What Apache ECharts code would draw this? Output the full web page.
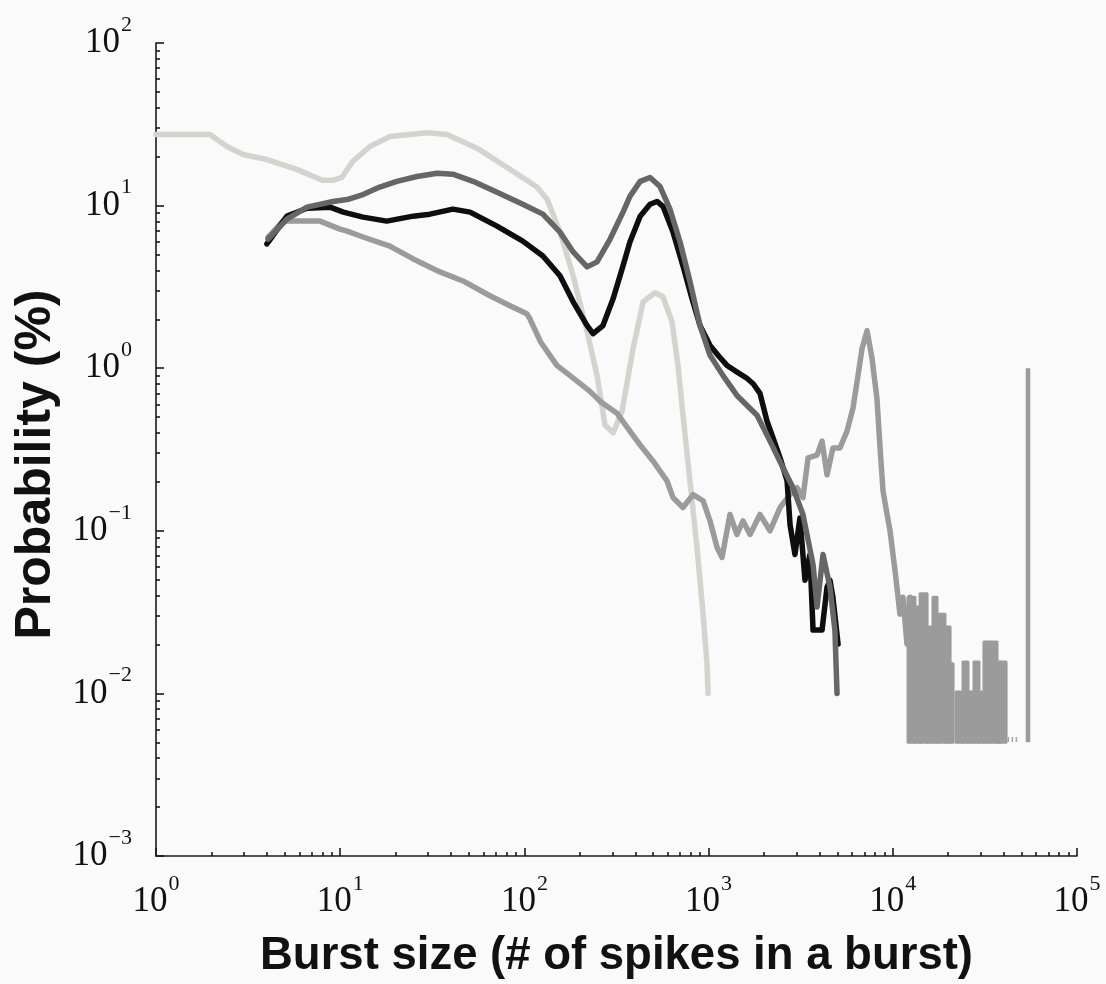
<!DOCTYPE html>
<html>
<head>
<meta charset="utf-8">
<script src="https://cdn.jsdelivr.net/npm/echarts@6/dist/echarts.min.js"></script>
<style>
  html, body { margin: 0; padding: 0; background: #fafafa; }
  #chart { width: 1106px; height: 984px; }
</style>
</head>
<body>
<div id="chart"></div>
<script>
// ---------- data ----------
// light gray curve
const lightX = [1, 1.96, 2.43, 2.97, 4.0, 5.8, 8.0, 9.1, 10.2, 11.7, 14.5, 18.6, 29.6, 38, 57, 87, 117, 133, 156, 184, 219, 248, 274, 303, 339, 389, 441, 512, 565, 633, 682, 726, 792, 865, 933, 980, 993];
const lightY = [27.4, 27.4, 23.1, 20.6, 19.2, 16.7, 14.3, 14.3, 14.9, 18.7, 23.1, 26.6, 28.1, 27.4, 22.1, 16.2, 13.0, 10.9, 6.87, 3.70, 1.68, 0.90, 0.447, 0.40, 0.544, 1.32, 2.56, 2.91, 2.75, 1.93, 1.04, 0.514, 0.203, 0.079, 0.031, 0.0152, 0.01];

// dark gray curve
const darkX = [4.06, 5.14, 6.61, 9.14, 10.9, 13.3, 16.4, 20.3, 26.1, 33.6, 40.9, 52.6, 71, 98, 126, 156, 184, 219, 248, 292, 343, 374, 425, 481, 545, 617, 700, 793, 898, 1018, 1198, 1425, 1832, 2155, 2535, 2872, 3253, 3421, 3690, 3878, 4180, 4560, 4850, 4980];
const darkY = [6.23, 8.26, 9.78, 10.6, 10.9, 11.7, 13.0, 14.1, 15.1, 15.8, 15.6, 14.1, 12.1, 10.2, 8.86, 6.87, 5.19, 4.20, 4.51, 6.23, 9.12, 11.4, 14.1, 14.9, 13.1, 9.5, 5.97, 3.40, 1.83, 1.20, 0.90, 0.68, 0.514, 0.356, 0.244, 0.184, 0.126, 0.095, 0.062, 0.034, 0.0715, 0.045, 0.0245, 0.01];

// black curve
const blackX = [4.0, 5.14, 6.61, 8.81, 10.4, 13.3, 17.9, 24.9, 30.7, 40.9, 50.7, 71, 98, 126, 156, 184, 219, 236, 267, 303, 343, 374, 425, 481, 525, 565, 641, 726, 813, 898, 1018, 1140, 1259, 1400, 1614, 1750, 1901, 2076, 2238, 2443, 2667, 2768, 2944, 3133, 3337, 3548, 3690, 4130, 4395, 4560, 4730, 5045];
const blackY = [5.81, 8.61, 9.64, 9.78, 9.12, 8.49, 8.03, 8.61, 8.86, 9.51, 9.12, 7.48, 6.05, 4.90, 3.70, 2.56, 1.83, 1.63, 1.83, 2.67, 4.26, 5.97, 8.61, 10.2, 10.6, 9.9, 6.87, 4.26, 2.67, 1.83, 1.38, 1.18, 1.04, 0.96, 0.867, 0.80, 0.70, 0.472, 0.372, 0.281, 0.203, 0.109, 0.0715, 0.120, 0.0496, 0.0715, 0.0245, 0.0245, 0.045, 0.0496, 0.039, 0.0201];

// medium gray curve
const midX = [4.06, 4.89, 7.77, 9.97, 10.9, 13.3, 18.6, 24.9, 34.8, 46.4, 65, 83.5, 103, 107, 122, 150, 177, 227, 257, 318, 374, 425, 499, 594, 641, 726, 823, 933, 1018, 1112, 1183, 1306, 1425, 1538, 1679, 1901, 2155, 2443, 2768, 3020, 3253, 3467, 3878, 4130, 4395, 4730, 5165, 5640, 6080, 6400, 6810, 7250, 7710, 8200, 8530, 8850, 9310, 9660, 10280, 10940, 11350, 11940, 12390];
const midY = [6.41, 8.03, 8.03, 7.17, 6.97, 6.41, 5.64, 4.70, 3.91, 3.44, 2.79, 2.42, 2.16, 2.02, 1.46, 1.04, 0.90, 0.72, 0.627, 0.529, 0.41, 0.337, 0.269, 0.203, 0.160, 0.139, 0.167, 0.153, 0.115, 0.079, 0.0686, 0.126, 0.095, 0.115, 0.095, 0.126, 0.10, 0.139, 0.167, 0.184, 0.160, 0.281, 0.292, 0.356, 0.221, 0.323, 0.323, 0.41, 0.568, 0.83, 1.32, 1.70, 1.15, 0.653, 0.323, 0.176, 0.126, 0.10, 0.057, 0.0307, 0.039, 0.0201, 0.039];

// medium gray dense tail: column start, column end, column top (all at floor below)
const tailStart = [12100, 13200, 14060, 15350, 16530, 17380, 19200, 20460, 22040, 24050, 25600, 27590, 29370, 31250, 33700, 36800, 38200];
const tailEnd   = [13200, 14060, 15350, 16530, 17380, 19200, 20460, 21240, 24050, 25600, 27590, 29370, 31250, 33700, 36800, 38200, 41200];
const tailTop   = [0.039, 0.034, 0.041, 0.0256, 0.039, 0.0307, 0.0256, 0.0152, 0.0102, 0.0156, 0.0102, 0.0156, 0.0102, 0.0207, 0.0207, 0.0156, 0.0156];
const tailFloor = 0.005;

// sparse single-count bins just above the floor, after the dense tail
const sparseX = [42000, 47500];
const sparseY = [0.0052, 0.0052];

// isolated bin at the far right
const spikeX = [54200, 54200];
const spikeY = [0.005, 1.0];

// axis ticks
const xDecades = [1, 10, 100, 1000, 10000, 100000];
const yDecades = [0.001, 0.01, 0.1, 1, 10, 100];
const minorSteps = [2, 3, 4, 5, 6, 7, 8, 9];

const xTitle = 'Burst size (# of spikes in a burst)';
const yTitle = 'Probability (%)';

// ---------- build ----------
function minorTicks(decades) {
  const out = [];
  for (let i = 0; i < decades.length - 1; i++) {
    for (const m of minorSteps) out.push(+(decades[i] * m).toPrecision(6));
  }
  return out;
}
const pairs = (xs, ys) => xs.map((x, i) => [x, ys[i]]);

const serif = 'Liberation Serif, Times New Roman, serif';
const sans = 'Liberation Sans, Arial, sans-serif';

function expLabel(v) {
  const e = Math.round(Math.log10(v));
  const s = e < 0 ? '\u2212' + (-e) : String(e);
  return '{b|10}{s|' + s + '}';
}
const labelRich = {
  b: { fontFamily: serif, fontSize: 35, lineHeight: 58, color: '#111' },
  s: { fontFamily: serif, fontSize: 22, lineHeight: 27, color: '#111', verticalAlign: 'top', padding: [0, 0, 0, 1] }
};

const axisLineStyle = { color: '#1a1a1a', width: 1.6 };
const LW = 5.5;

const chart = echarts.init(document.getElementById('chart'), null, { renderer: 'canvas' });

const option = {
  backgroundColor: '#fafafa',
  animation: false,
  grid: { left: 156, right: 29, top: 43, bottom: 124, containLabel: false },
  xAxis: [
    {
      type: 'log', logBase: 10, min: 1, max: 100000,
      axisLine: { show: true, lineStyle: axisLineStyle },
      axisTick: { show: true, inside: true, length: 4, customValues: minorTicks(xDecades), lineStyle: axisLineStyle },
      axisLabel: { show: true, margin: 17, formatter: expLabel, rich: labelRich, customValues: xDecades },
      splitLine: { show: false },
      name: xTitle, nameLocation: 'middle', nameGap: 77,
      nameTextStyle: { fontFamily: sans, fontWeight: 'bold', fontSize: 45.5, color: '#111' }
    },
    {
      type: 'log', logBase: 10, min: 1, max: 100000, position: 'bottom',
      axisLine: { show: false },
      axisTick: { show: true, inside: true, length: 8, customValues: xDecades, lineStyle: axisLineStyle },
      axisLabel: { show: false },
      splitLine: { show: false }
    }
  ],
  yAxis: [
    {
      type: 'log', logBase: 10, min: 0.001, max: 100,
      axisLine: { show: true, lineStyle: axisLineStyle },
      axisTick: { show: true, inside: true, length: 4, customValues: minorTicks(yDecades), lineStyle: axisLineStyle },
      axisLabel: { show: true, margin: 24, formatter: expLabel, rich: labelRich, customValues: yDecades },
      splitLine: { show: false },
      name: yTitle, nameLocation: 'middle', nameGap: 83,
      nameTextStyle: { fontFamily: sans, fontWeight: 'bold', fontSize: 50, color: '#111', padding: [0, 30, 0, 0] }
    },
    {
      type: 'log', logBase: 10, min: 0.001, max: 100, position: 'left',
      axisLine: { show: false },
      axisTick: { show: true, inside: true, length: 8, customValues: yDecades, lineStyle: axisLineStyle },
      axisLabel: { show: false },
      splitLine: { show: false }
    }
  ],
  series: [
    {
      name: 'light', type: 'line', data: pairs(lightX, lightY), showSymbol: false, symbol: 'none',
      lineStyle: { color: '#d6d3ce', width: LW, join: 'round', cap: 'round' }, z: 2
    },
    {
      name: 'tail', type: 'custom', z: 3,
      data: tailStart.map((s, i) => [s, tailEnd[i], tailTop[i]]),
      encode: { x: [0, 1], y: 2 },
      renderItem: function (params, api) {
        const p0 = api.coord([api.value(0), api.value(2)]);
        const p1 = api.coord([api.value(1), tailFloor]);
        return {
          type: 'rect',
          shape: { x: p0[0], y: p0[1], width: p1[0] - p0[0], height: p1[1] - p0[1] },
          style: { fill: '#9b9b9b', stroke: '#9b9b9b', lineWidth: 3, lineJoin: 'round' }
        };
      }
    },
    {
      name: 'sparse', type: 'line', data: pairs(sparseX, sparseY), showSymbol: false, symbol: 'none',
      lineStyle: { color: '#a5a5a5', width: 5, type: [1.5, 2.5], cap: 'butt' }, z: 3
    },
    {
      name: 'mid', type: 'line', data: pairs(midX, midY), showSymbol: false, symbol: 'none',
      lineStyle: { color: '#9b9b9b', width: LW, join: 'round', cap: 'round' }, z: 3
    },
    {
      name: 'spike', type: 'line', data: pairs(spikeX, spikeY), showSymbol: false, symbol: 'none',
      lineStyle: { color: '#9b9b9b', width: 4.5, cap: 'butt' }, z: 3
    },
    {
      name: 'black', type: 'line', data: pairs(blackX, blackY), showSymbol: false, symbol: 'none',
      lineStyle: { color: '#0e0e0e', width: LW, join: 'round', cap: 'round' }, z: 4
    },
    {
      name: 'dark', type: 'line', data: pairs(darkX, darkY), showSymbol: false, symbol: 'none',
      lineStyle: { color: '#666666', width: LW, join: 'round', cap: 'round' }, z: 5
    }
  ]
};
chart.setOption(option);
</script>
</body>
</html>
